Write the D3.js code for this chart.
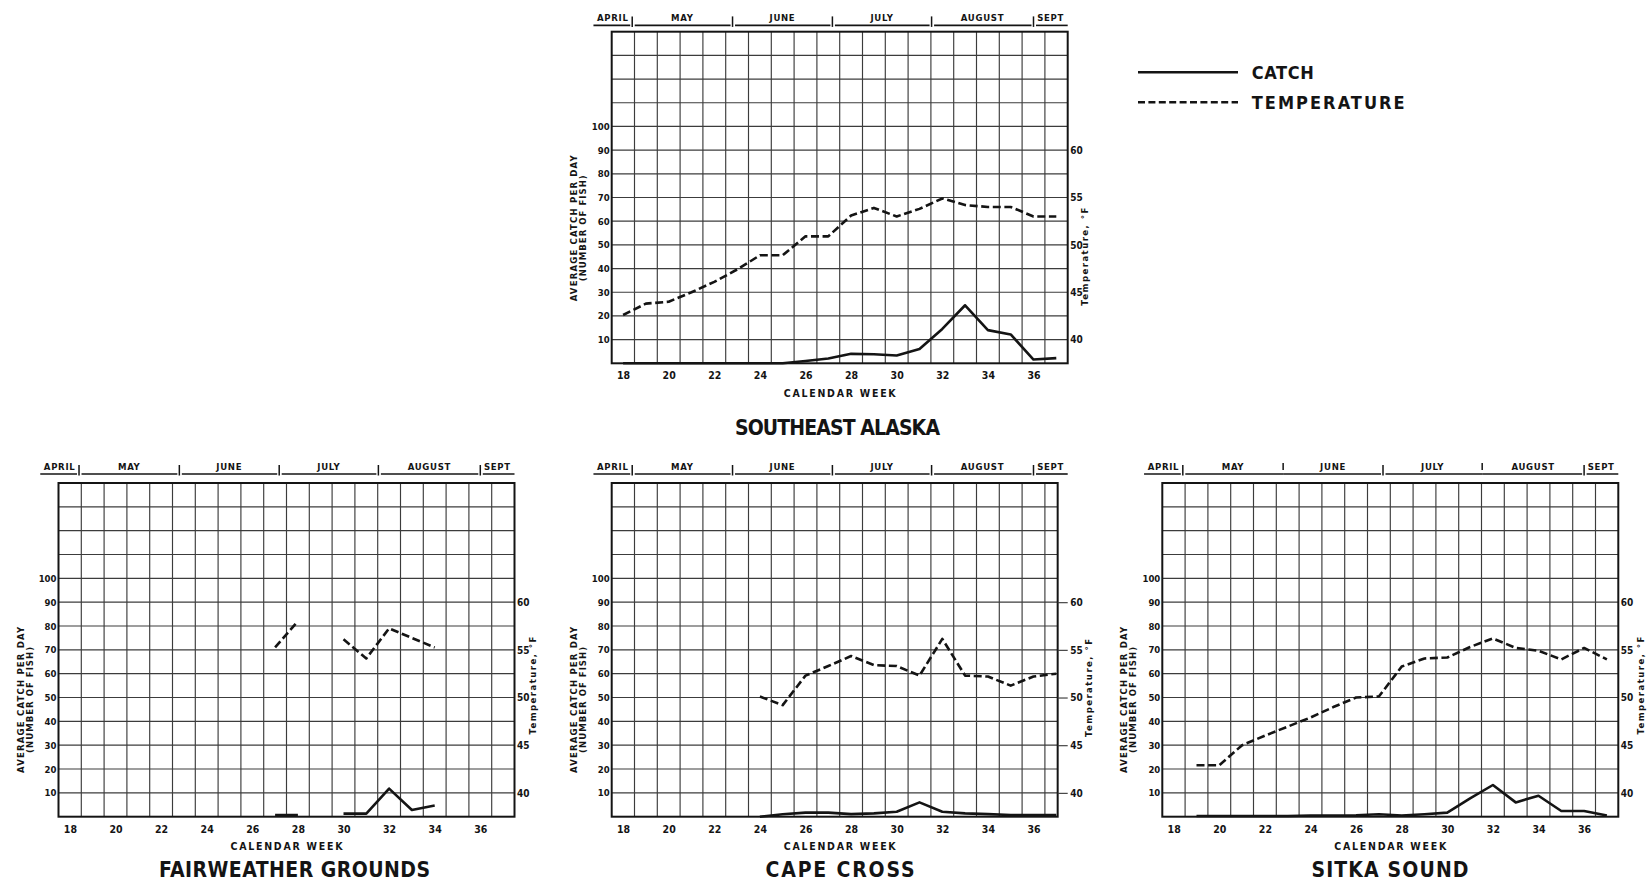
<!DOCTYPE html>
<html>
<head>
<meta charset="utf-8">
<script src="https://cdn.jsdelivr.net/npm/d3@7"></script>
<style>
  html, body { margin: 0; padding: 0; background: #ffffff; }
  svg { display: block; }
  text {
    font-family: "DejaVu Sans Condensed", "DejaVu Sans", sans-serif;
    font-stretch: condensed;
    font-weight: bold;
    fill: #141414;
  }
</style>
</head>
<body>
<svg id="chart" width="1650" height="884"></svg>
<script>
// ---- data -------------------------------------------------------------
// calendar weeks 18..37, one value per week (null = no observation)
const weeks = d3.range(18, 38);
const weekTicks = [18, 20, 22, 24, 26, 28, 30, 32, 34, 36];
const catchTicks = [10, 20, 30, 40, 50, 60, 70, 80, 90, 100];
const tempTicks = [40, 45, 50, 55, 60];
const months = ["APRIL", "MAY", "JUNE", "JULY", "AUGUST", "SEPT"];
// week position at which each month begins, and where the month bar stops
const monthStarts = [16.7, 18.4, 22.8, 27.18, 31.53, 36.0];
const monthEnd = 37.5;

// average catch per day (number of fish)
const seAlaskaCatch   = [0, 0, 0, 0, 0, 0, 0, 0, 1, 2, 4, 3.8, 3.3, 6, 14.5, 24.5, 14, 12.2, 1.6, 2.2];
const fairweatherCatch = [null, null, null, null, null, null, null, null, null, 0.7, 0.7, null, 1.3, 1.3, 11.8, 2.8, 4.7, null, null, null];
const capeCrossCatch  = [null, null, null, null, null, null, 0, 1, 1.7, 1.7, 1.1, 1.4, 2.1, 6, 2.1, 1.4, 1.1, 0.7, 0.7, 0.7];
const sitkaCatch      = [null, 0.3, 0.3, 0.3, 0.3, 0.3, 0.5, 0.5, 0.6, 1, 0.5, 1, 1.7, 7.7, 13.3, 6, 8.8, 2.4, 2.4, 0.5];

// water temperature, degrees F
const seAlaskaTemp    = [42.6, 43.8, 44, 45, 46.1, 47.4, 48.9, 48.9, 50.9, 50.9, 53.1, 53.9, 53, 53.8, 54.9, 54.2, 54, 54, 53, 53];
const fairweatherTemp = [null, null, null, null, null, null, null, null, null, 55.25, 58, null, 56.1, 54.1, 57.25, 56.25, 55.25, null, null, null];
const capeCrossTemp   = [null, null, null, null, null, null, 50.1, 49.2, 52.3, 53.3, 54.35, 53.4, 53.3, 52.3, 56.15, 52.3, 52.2, 51.25, 52.2, 52.5];
const sitkaTemp       = [null, 42.9, 42.9, 45, 46, 46.95, 47.9, 49, 50, 50.1, 53.25, 54.1, 54.2, 55.3, 56.2, 55.2, 54.9, 54, 55.2, 54];

// ---- layout -----------------------------------------------------------
const WEEK_PX = 22.8;
const panels = [
  { title: "SOUTHEAST ALASKA", left: 611.7, top: 31.7, bottom: 363.3, xMax: 37.5,
    catchVals: seAlaskaCatch, tempVals: seAlaskaTemp, inlineBreaks: [],
    monthGap: 6.3, titleX: 837.5, titleDy: 71.7, titleLen: 205, leftTitleAt: 57, rightTitleAt: 45, rightTitleDx: 20 },
  { title: "FAIRWEATHER GROUNDS", left: 58.5, top: 483, bottom: 816.7, xMax: 37.5,
    catchVals: fairweatherCatch, tempVals: fairweatherTemp, inlineBreaks: [],
    monthGap: 9, titleX: 294.5, titleDy: 60.3, titleLen: 271, leftTitleAt: 49, rightTitleAt: 55, rightTitleDx: 21 },
  { title: "CAPE CROSS", left: 611.7, top: 483, bottom: 816.7, xMax: 37.06,
    catchVals: capeCrossCatch, tempVals: capeCrossTemp, inlineBreaks: [],
    monthGap: 9, titleX: 840, titleDy: 60.3, titleLen: 149, leftTitleAt: 49, rightTitleAt: 54, rightTitleDx: 24 },
  { title: "SITKA SOUND", left: 1162.3, top: 483, bottom: 816.7, xMax: 37.5,
    catchVals: sitkaCatch, tempVals: sitkaTemp, inlineBreaks: [2, 4],
    monthGap: 9, titleX: 1390, titleDy: 60.3, titleLen: 157, leftTitleAt: 49, rightTitleAt: 55, rightTitleDx: 26 }
];

const INK = "#141414";
const GRID = "#3c3c3c";
const svg = d3.select("#chart");

panels.forEach(p => {
  const x = d3.scaleLinear().domain([17.5, 37.5]).range([p.left, p.left + 20 * WEEK_PX]);
  const y = d3.scaleLinear().domain([0, 140]).range([p.bottom, p.top]);
  const yTemp = d3.scaleLinear().domain([37.5, 72.5]).range([p.bottom, p.top]);
  const xEdge = x(p.xMax);
  const xFull = x(37.5);
  const g = svg.append("g");

  // grid: one column per week, a row every 10 fish
  const rows = d3.range(10, 140, 10);
  const cols = d3.range(18.5, 37, 1).filter(w => w < p.xMax);
  g.append("g").selectAll("line").data(rows).join("line")
    .attr("x1", p.left).attr("x2", xEdge)
    .attr("y1", d => y(d)).attr("y2", d => y(d))
    .attr("stroke", GRID).attr("stroke-width", 1.15);
  g.append("g").selectAll("line").data(cols).join("line")
    .attr("x1", d => x(d)).attr("x2", d => x(d))
    .attr("y1", p.top).attr("y2", p.bottom)
    .attr("stroke", GRID).attr("stroke-width", 1.15);

  // frame
  g.append("rect")
    .attr("x", p.left).attr("y", p.top)
    .attr("width", xEdge - p.left).attr("height", p.bottom - p.top)
    .attr("fill", "none").attr("stroke", INK).attr("stroke-width", 2);

  // month bar above the frame; "inline" breaks keep the rule unbroken
  // and only mark the change of month with a short stroke in the text row
  const mb = p.top - p.monthGap;
  const spans = months.map((m, k) => ({
    name: m, a: monthStarts[k], b: k < months.length - 1 ? monthStarts[k + 1] : monthEnd, k
  }));
  const isInline = k => p.inlineBreaks.includes(k);
  g.append("g").selectAll("line").data(spans).join("line")
    .attr("x1", d => x(d.a) + (d.k > 0 && !isInline(d.k) ? 2.5 : 0))
    .attr("x2", d => x(d.b) - (d.k < months.length - 1 && !isInline(d.k + 1) ? 2 : 0))
    .attr("y1", mb).attr("y2", mb)
    .attr("stroke", INK).attr("stroke-width", 1.6);
  const breaks = monthStarts.slice(1).map((w, i) => ({ w, k: i + 1 }));
  g.append("g").selectAll("line").data(breaks).join("line")
    .attr("x1", d => x(d.w)).attr("x2", d => x(d.w))
    .attr("y1", d => isInline(d.k) ? mb - 11 : mb - 9)
    .attr("y2", d => isInline(d.k) ? mb - 4 : mb + 1.5)
    .attr("stroke", INK).attr("stroke-width", 1.5);
  g.append("g").selectAll("text").data(spans).join("text")
    .attr("x", d => (x(d.a) + x(d.b)) / 2)
    .attr("y", mb - 4.5)
    .attr("text-anchor", "middle")
    .attr("font-size", 9.5)
    .attr("letter-spacing", 0.7)
    .text(d => d.name);

  // left axis: catch
  const la = g.append("g").attr("transform", `translate(${p.left},0)`)
    .call(d3.axisLeft(y).tickValues(catchTicks).tickSize(0).tickPadding(2));
  la.select(".domain").remove();
  la.selectAll("text").attr("font-size", 9.5).attr("font-family", null).attr("fill", INK);

  // right axis: temperature
  const ra = g.append("g").attr("transform", `translate(${xEdge},0)`)
    .call(d3.axisRight(yTemp).tickValues(tempTicks).tickSize(xFull - xEdge).tickPadding(2.5));
  ra.select(".domain").remove();
  ra.selectAll("line").attr("stroke", GRID).attr("stroke-width", 1.15);
  ra.selectAll("text").attr("font-size", 10).attr("font-family", null).attr("fill", INK);

  // bottom axis: calendar week
  const ba = g.append("g").attr("transform", `translate(0,${p.bottom})`)
    .call(d3.axisBottom(x).tickValues(weekTicks).tickSize(0).tickPadding(8.5));
  ba.select(".domain").remove();
  ba.selectAll("text").attr("font-size", 10.5).attr("font-family", null).attr("fill", INK);

  g.append("text")
    .attr("x", x(27.5)).attr("y", p.bottom + 33.5)
    .attr("text-anchor", "middle").attr("font-size", 10.5)
    .attr("textLength", 112).attr("lengthAdjust", "spacing")
    .text("CALENDAR WEEK");

  // axis titles
  const ly = y(p.leftTitleAt);
  g.append("text")
    .attr("transform", `translate(${p.left - 35},${ly}) rotate(-90)`)
    .attr("text-anchor", "middle").attr("font-size", 9.5)
    .attr("textLength", 146).attr("lengthAdjust", "spacing")
    .text("AVERAGE CATCH PER DAY");
  g.append("text")
    .attr("transform", `translate(${p.left - 26},${ly}) rotate(-90)`)
    .attr("text-anchor", "middle").attr("font-size", 9.5)
    .attr("textLength", 106).attr("lengthAdjust", "spacing")
    .text("(NUMBER OF FISH)");
  g.append("text")
    .attr("transform", `translate(${xFull + p.rightTitleDx},${y(p.rightTitleAt)}) rotate(-90)`)
    .attr("text-anchor", "middle").attr("font-size", 9.5)
    .attr("textLength", 98).attr("lengthAdjust", "spacing")
    .text("Temperature, °F");

  // panel title
  g.append("text")
    .attr("x", p.titleX).attr("y", p.bottom + p.titleDy)
    .attr("text-anchor", "middle").attr("font-size", 21)
    .attr("textLength", p.titleLen).attr("lengthAdjust", "spacing")
    .text(p.title);

  // series
  const catchPts = weeks.map((w, i) => ({ w, v: p.catchVals[i] }));
  const tempPts = weeks.map((w, i) => ({ w, v: p.tempVals[i] }));
  const catchLine = d3.line().defined(d => d.v != null).x(d => x(d.w)).y(d => y(d.v));
  const tempLine = d3.line().defined(d => d.v != null).x(d => x(d.w)).y(d => yTemp(d.v));

  g.append("path").datum(tempPts)
    .attr("d", tempLine)
    .attr("fill", "none").attr("stroke", INK).attr("stroke-width", 2.6)
    .attr("stroke-dasharray", "8,3.6").attr("stroke-linejoin", "round");
  g.append("path").datum(catchPts)
    .attr("d", catchLine)
    .attr("fill", "none").attr("stroke", INK).attr("stroke-width", 2.6)
    .attr("stroke-linejoin", "round");
});

// legend
const legend = svg.append("g");
const legendItems = [
  { label: "CATCH", dash: null, y: 72.3, len: 62 },
  { label: "TEMPERATURE", dash: "7,3.4", y: 102.3, len: 153 }
];
legend.selectAll("line").data(legendItems).join("line")
  .attr("x1", 1138).attr("x2", 1238)
  .attr("y1", d => d.y).attr("y2", d => d.y)
  .attr("stroke", INK).attr("stroke-width", 2.6)
  .attr("stroke-dasharray", d => d.dash);
legend.selectAll("text").data(legendItems).join("text")
  .attr("x", 1251.7).attr("y", d => d.y + 6.3)
  .attr("font-size", 18)
  .attr("textLength", d => d.len).attr("lengthAdjust", "spacing")
  .text(d => d.label);
</script>
</body>
</html>
